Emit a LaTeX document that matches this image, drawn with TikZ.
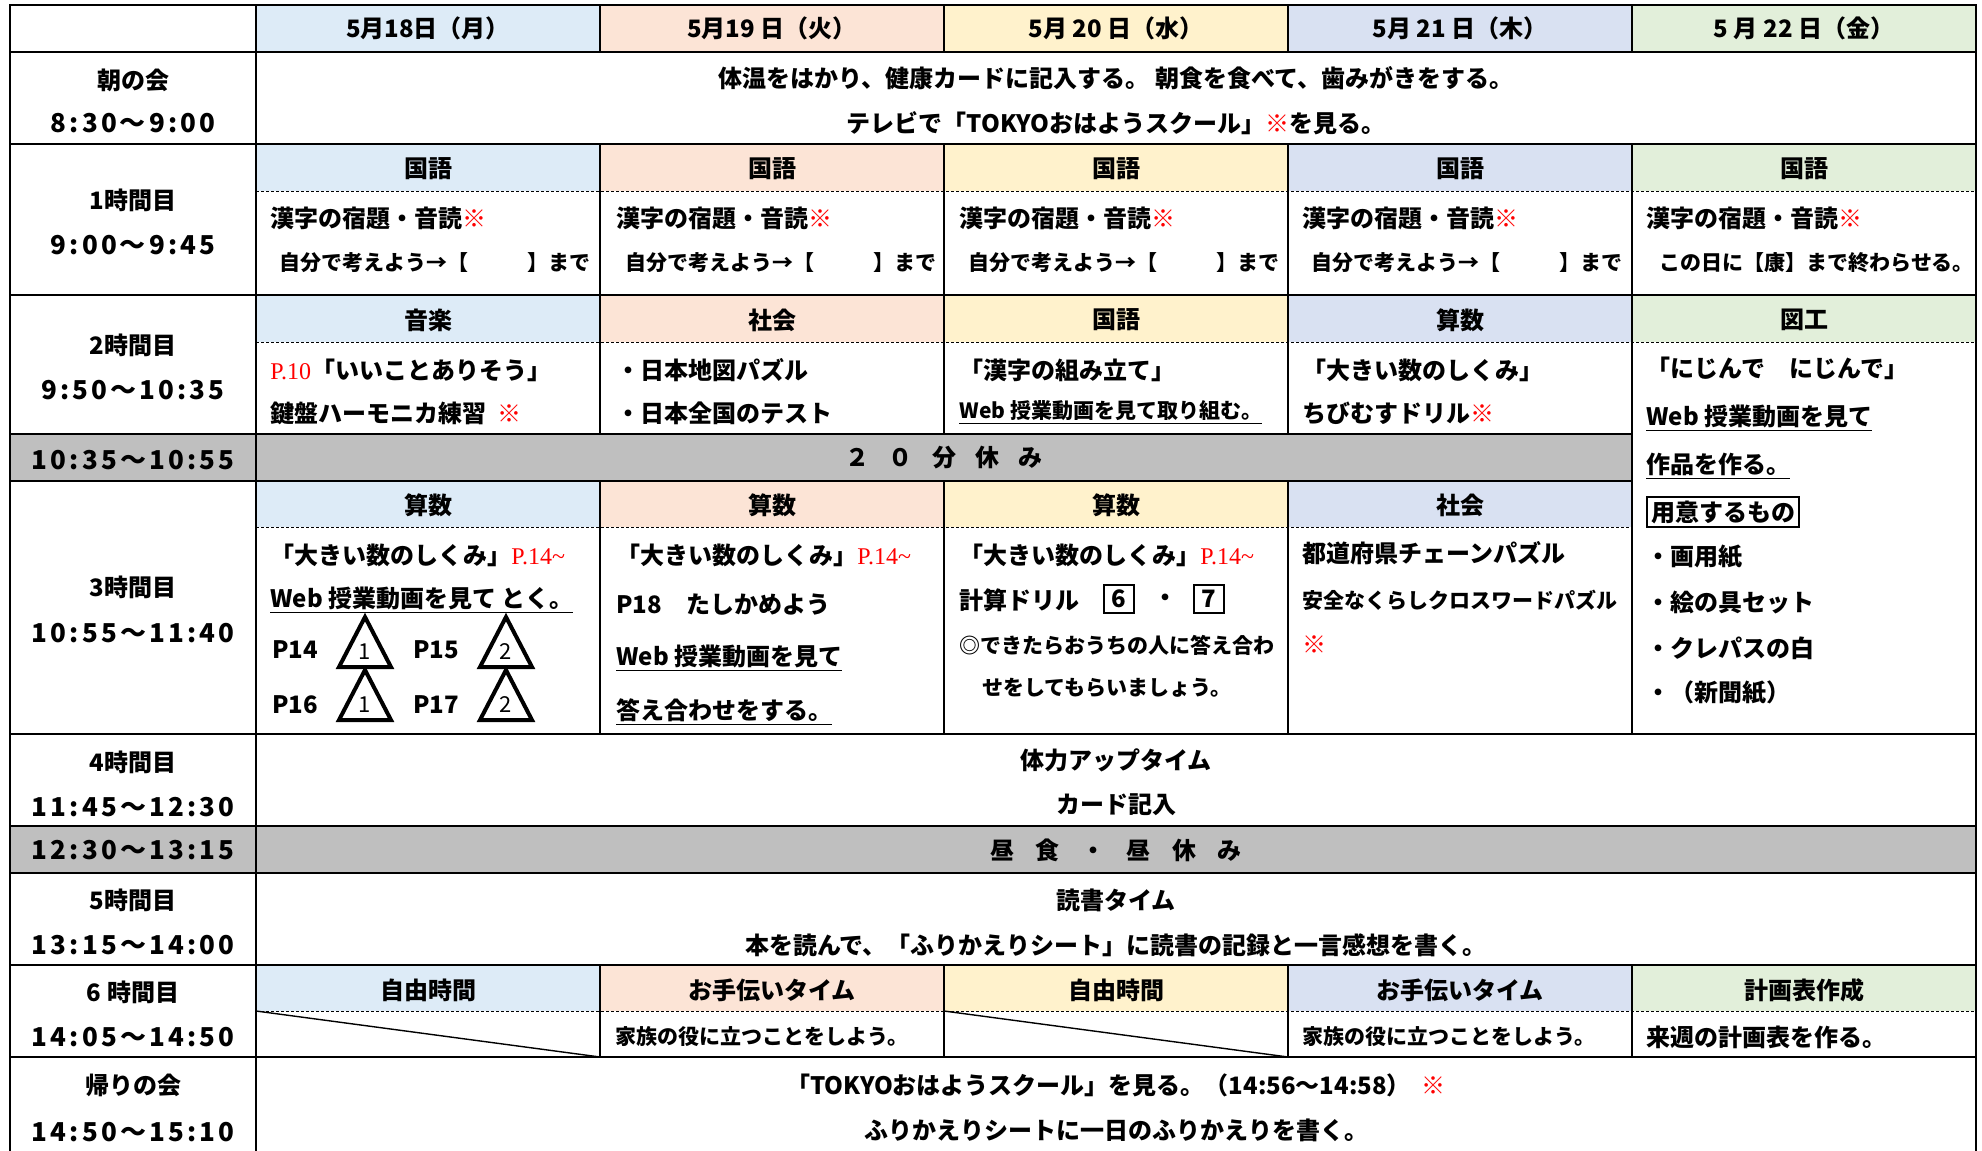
\documentclass[tikz,border=0pt]{standalone}
\usepackage{fontspec}
\setmainfont{Noto Sans CJK JP}
\newfontfamily\timefont{Noto Sans CJK JP}[LetterSpace=12]
\newfontfamily\redserif{Liberation Serif}

\definecolor{monblue}{HTML}{DDEBF7}
\definecolor{tuepeach}{HTML}{FCE4D6}
\definecolor{wedyellow}{HTML}{FFF2CC}
\definecolor{thublue}{HTML}{D9E1F2}
\definecolor{frigreen}{HTML}{E2EFDA}
\definecolor{breakgray}{HTML}{BFBFBF}

\newcommand{\kome}{\textcolor{red}{※}}
\newcommand{\redpage}[1]{\textcolor{red}{\redserif\mdseries #1}}

\tikzset{
  txt/.style={inner sep=0pt, font=\bfseries\fontsize{12}{14}\selectfont},
  lft/.style={txt, anchor=west},
  narrow/.style={lft, font=\bfseries\fontsize{10.5}{12}\selectfont},
  time/.style={txt, font=\timefont\bfseries\fontsize{13}{14}\selectfont},
  grid/.style={line width=1pt},
  sub/.style={line width=0.5pt, dash pattern=on 1.5pt off 1pt},
}

\begin{document}
\begin{tikzpicture}[x=0.5pt,y=-0.5pt]
\useasboundingbox (0,0) rectangle (1982,1151);

% colour bands
\foreach \col/\xa in {monblue/256,tuepeach/600,wedyellow/944,thublue/1288,frigreen/1632}{
  \fill[\col] (\xa,5) rectangle ++(344,47);
  \fill[\col] (\xa,144) rectangle ++(344,47);
  \fill[\col] (\xa,295) rectangle ++(344,47);
  \fill[\col] (\xa,965) rectangle ++(344,46);
}
\foreach \col/\xa in {monblue/256,tuepeach/600,wedyellow/944,thublue/1288}
  \fill[\col] (\xa,481) rectangle ++(344,46);
\fill[breakgray] (10,434) rectangle (1632,481);
\fill[breakgray] (10,826) rectangle (1976,873);

% dotted lines under the subjects
\foreach \y in {191,342,1011} \draw[sub] (256,\y) -- (1976,\y);
\draw[sub] (256,527) -- (1632,527);
\draw[line width=0.7pt] (256,1011) -- (600,1057);
\draw[line width=0.7pt] (944,1011) -- (1288,1057);

% grid
\draw[grid] (10,1151) -- (10,5) -- (1976,5) -- (1976,1151);
\foreach \y in {52,144,295,734,826,873,965,1057} \draw[grid] (10,\y) -- (1976,\y);
\foreach \y in {434,481} \draw[grid] (10,\y) -- (1632,\y);
\draw[grid] (256,5) -- (256,1151);
\foreach \x in {600,944,1288,1632}{
  \draw[grid] (\x,5) -- (\x,52);
  \draw[grid] (\x,144) -- (\x,434);
  \draw[grid] (\x,481) -- (\x,734);
  \draw[grid] (\x,965) -- (\x,1057);
}
\draw[grid] (1632,434) -- (1632,481);

% dates
\foreach \d [count=\i] in {5月18日（月）,5月19 日（火）,5月 20 日（水）,5月 21 日（木）,5 月 22 日（金）}
  \node[txt] (day\i) at (84+344*\i,28) {\d};

% time column
\node[txt] (asa) at (133,80) {朝の会};
\node[time] (asat) at (133,123) {8:30〜9:00};
\node[txt] (h1) at (133,200) {1時間目};
\node[time] (h1t) at (133,245) {9:00〜9:45};
\node[txt] (h2) at (133,345) {2時間目};
\node[time] (h2t) at (133,390) {9:50〜10:35};
\node[time] (brk) at (133,460) {10:35〜10:55};
\node[txt] (h3) at (133,587) {3時間目};
\node[time] (h3t) at (133,633) {10:55〜11:40};
\node[txt] (h4) at (133,762) {4時間目};
\node[time] (h4t) at (133,807) {11:45〜12:30};
\node[time] (lunch) at (133,850) {12:30〜13:15};
\node[txt] (h5) at (133,900) {5時間目};
\node[time] (h5t) at (133,945) {13:15〜14:00};
\node[txt] (h6) at (133,992) {6 時間目};
\node[time] (h6t) at (133,1037) {14:05〜14:50};
\node[txt] (kaeri) at (133,1085) {帰りの会};
\node[time] (kaerit) at (133,1132) {14:50〜15:10};

% morning
\node[txt] (asa1) at (1116,78) {体温をはかり、健康カードに記入する。 朝食を食べて、歯みがきをする。};
\node[txt] (asa2) at (1116,123) {テレビで「TOKYOおはようスクール」\kome を見る。};

% 1st period
\foreach \i in {1,...,5} \node[txt] (sub1\i) at (84+344*\i,169) {国語};
\foreach \xa [count=\i] in {270,616,959,1302,1646}
  \node[lft] (kanji\i) at (\xa,218) {漢字の宿題・音読\kome};
\foreach \xa [count=\i] in {279,625,968,1311}
  \node[narrow] (jibun\i) at (\xa,263) {自分で考えよう→【\hspace{2.8em}】まで};
\node[narrow] (jibun5) at (1659,263) {この日に【康】まで終わらせる。};

% 2nd period
\foreach \s [count=\i] in {音楽,社会,国語,算数,図工} \node[txt] (sub2\i) at (84+344*\i,320) {\s};
\node[lft] (ongaku1) at (270,370) {\redpage{P.10}「いいことありそう」};
\node[lft] (ongaku2) at (270,413) {鍵盤ハーモニカ練習\ \ \kome};
\node[lft] (shakai1) at (616,370) {・日本地図パズル};
\node[lft] (shakai2) at (616,413) {・日本全国のテスト};
\node[lft] (kokugo1) at (959,370) {「漢字の組み立て」};
\node[narrow] (kokugo2) at (959,413) {\underline{Web 授業動画を見て取り組む。}};
\node[lft] (sansu1) at (1302,370) {「大きい数のしくみ」};
\node[lft] (sansu2) at (1302,413) {ちびむすドリル\kome};
\node[lft] (zuko1) at (1646,368) {「にじんで　にじんで」};
\node[lft] (zuko2) at (1646,418) {\underline{Web 授業動画を見て}};
\node[lft] (zuko3) at (1646,466) {\underline{作品を作る。}};
\node[lft, draw, line width=1pt, inner sep=2pt] (zuko4) at (1646,512) {用意するもの};
\node[lft] (zuko5) at (1646,557) {・画用紙};
\node[lft] (zuko6) at (1646,602) {・絵の具セット};
\node[lft] (zuko7) at (1646,648) {・クレパスの白};
\node[lft] (zuko8) at (1646,693) {・（新聞紙）};

% break
\node[txt] (yasumi) at (944,458) {２\hspace{.8em}０\hspace{.8em}分\hspace{.8em}休\hspace{.8em}み};

% 3rd period
\foreach \s [count=\i] in {算数,算数,算数,社会} \node[txt] (sub3\i) at (84+344*\i,505) {\s};
\foreach \xa [count=\i] in {270,616,959}
  \node[lft] (ookii\i) at (\xa,555) {「大きい数のしくみ」\redpage{P.14\textasciitilde}};
\node[lft] (mon2) at (270,600) {\underline{Web 授業動画を見て とく。}};
\node[lft] (p14) at (272,650) {P14};
\node[lft] (p15) at (413,650) {P15};
\node[lft] (p16) at (272,705) {P16};
\node[lft] (p17) at (413,705) {P17};
\foreach \x/\y/\n [count=\i] in {365/617/1,506/617/2,365/670/1,506/670/2}{
  \draw[line width=2pt, line join=miter] (\x-26,\y+50) -- (\x,\y) -- (\x+26,\y+50) -- cycle;
  \node[txt, font=\fontsize{11}{12}\selectfont] (tri\i) at (\x,\y+35) {\n};
}
\node[lft] (tue2) at (616,605) {P18　たしかめよう};
\node[lft] (tue3) at (616,658) {\underline{Web 授業動画を見て}};
\node[lft] (tue4) at (616,712) {\underline{答え合わせをする。}};
\node[lft] (drill) at (959,600) {計算ドリル};
\node[txt, draw, line width=1pt, minimum width=15pt, minimum height=14pt] (d6) at (1119,599) {6};
\node[txt] (ddot) at (1165,600) {・};
\node[txt, draw, line width=1pt, minimum width=15pt, minimum height=14pt] (d7) at (1209,599) {7};
\node[narrow] (wed3) at (959,645) {◎できたらおうちの人に答え合わ};
\node[narrow] (wed4) at (982,688) {せをしてもらいましょう。};
\node[lft] (thu1) at (1302,553) {都道府県チェーンパズル};
\node[narrow] (thu2) at (1302,600) {安全なくらしクロスワードパズル};
\node[lft] (thu3) at (1302,645) {\kome};

% 4th period, lunch, 5th period
\node[txt] (tairyoku) at (1116,760) {体力アップタイム};
\node[txt] (card) at (1116,805) {カード記入};
\node[txt] (hiru) at (1116,850) {昼\hspace{.9em}食\hspace{.9em}・\hspace{.9em}昼\hspace{.9em}休\hspace{.9em}み};
\node[txt] (dokusho) at (1116,900) {読書タイム};
\node[txt] (hon) at (1116,945) {本を読んで、「ふりかえりシート」に読書の記録と一言感想を書く。};

% 6th period
\foreach \s [count=\i] in {自由時間,お手伝いタイム,自由時間,お手伝いタイム,計画表作成} \node[txt] (sub6\i) at (84+344*\i,990) {\s};
\node[narrow] (kazoku1) at (615,1037) {家族の役に立つことをしよう。};
\node[narrow] (kazoku2) at (1302,1037) {家族の役に立つことをしよう。};
\node[lft] (keikaku) at (1646,1037) {来週の計画表を作る。};

% going home
\node[txt] (tokyo) at (1116,1085) {「TOKYOおはようスクール」を見る。（14:56〜14:58）\ \ \kome};
\node[txt] (furi) at (1116,1130) {ふりかえりシートに一日のふりかえりを書く。};
\end{tikzpicture}
\end{document}
